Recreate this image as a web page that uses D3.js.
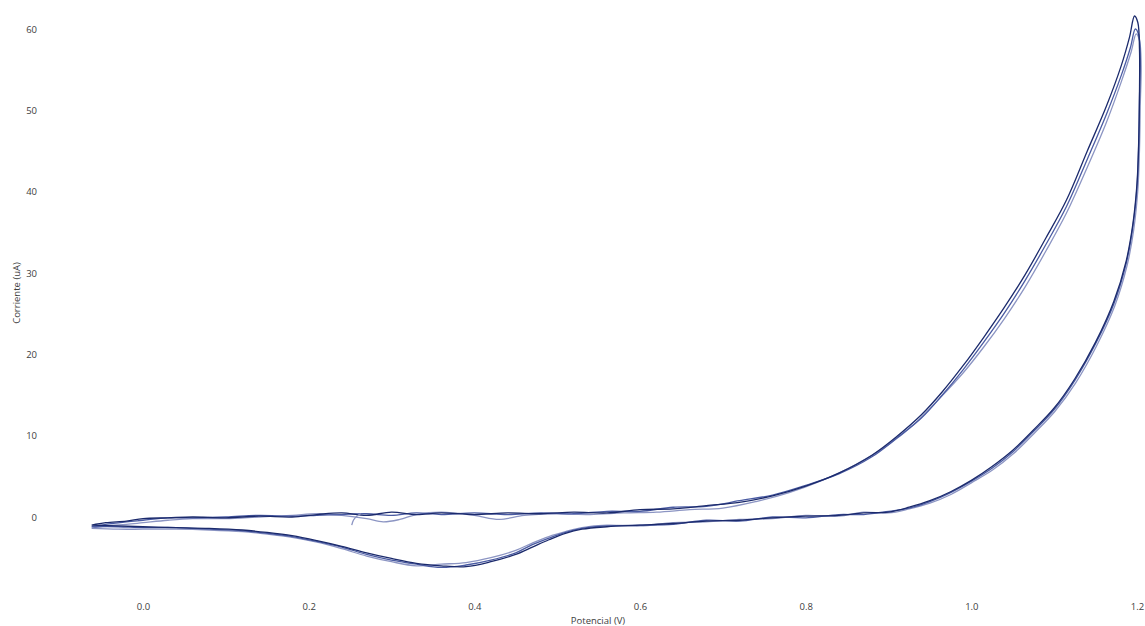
<!DOCTYPE html>
<html>
<head>
<meta charset="utf-8">
<script src="https://cdn.jsdelivr.net/npm/d3@7"></script>
<style>
  html, body { margin: 0; padding: 0; background: #ffffff; }
  svg { display: block; }
  .tick text { font-family: "Open Sans", sans-serif; font-size: 9.5px; fill: #404040; }
  .axis-title { font-family: "Open Sans", sans-serif; font-size: 9.5px; fill: #404040; }
</style>
</head>
<body>
<svg id="chart" width="1145" height="626"></svg>
<script>
// Cyclic voltammogram: three consecutive scans, [potential (V), current (uA)]
const scan1 = [
  [-0.062,-1.0],[-0.045,-0.7],[-0.02,-0.5],[0.0,-0.2],[0.03,-0.1],[0.06,0.0],[0.1,-0.1],[0.14,0.1],
  [0.18,0.0],[0.21,0.3],[0.24,0.5],[0.27,0.2],[0.3,0.6],[0.33,0.3],[0.36,0.5],[0.4,0.3],[0.44,0.5],
  [0.48,0.4],[0.52,0.6],[0.56,0.5],[0.6,0.9],[0.64,1.0],[0.68,1.4],[0.72,1.8],[0.76,2.6],[0.8,3.8],
  [0.84,5.4],[0.88,7.6],[0.91,9.9],[0.94,12.6],[0.965,15.4],[0.99,18.6],[1.015,22.1],[1.04,25.8],
  [1.065,29.8],[1.09,34.3],[1.115,39.0],[1.14,45.0],[1.163,50.5],[1.181,55.5],[1.191,59.0],[1.197,61.6],
  [1.201,60.8],[1.203,57.5],[1.203,52.0],[1.202,46.0],[1.2,41.0],[1.195,36.0],[1.187,31.5],
  [1.172,26.5],[1.15,21.5],[1.125,17.0],[1.1,13.4],[1.075,10.7],[1.05,8.2],[1.025,6.2],[1.0,4.5],
  [0.975,3.1],[0.95,2.0],[0.925,1.2],[0.9,0.6],[0.87,0.5],[0.84,0.2],[0.8,0.1],[0.76,-0.1],
  [0.72,-0.4],[0.68,-0.5],[0.64,-0.8],[0.6,-1.0],[0.56,-1.2],[0.53,-1.5],[0.51,-2.0],[0.49,-2.8],
  [0.47,-3.7],[0.45,-4.6],[0.42,-5.5],[0.39,-6.1],[0.36,-6.0],[0.33,-5.7],[0.3,-5.1],[0.27,-4.4],
  [0.24,-3.6],[0.21,-2.9],[0.18,-2.3],[0.15,-1.9],[0.12,-1.6],[0.08,-1.4],[0.04,-1.3],[0.0,-1.2],
  [-0.03,-1.1],[-0.062,-1.0]
];
const scan2 = [
  [-0.062,-1.2],[-0.045,-0.9],[-0.02,-0.6],[0.0,-0.4],[0.03,-0.1],[0.06,-0.1],[0.1,0.0],[0.14,0.2],
  [0.18,0.1],[0.21,0.2],[0.24,0.3],[0.27,0.4],[0.3,0.2],[0.33,0.5],[0.36,0.3],[0.4,0.5],[0.44,0.3],
  [0.48,0.5],[0.52,0.4],[0.56,0.7],[0.6,0.7],[0.64,1.2],[0.68,1.3],[0.72,2.0],[0.76,2.7],[0.8,3.9],
  [0.84,5.3],[0.88,7.4],[0.91,9.7],[0.94,12.2],[0.965,15.0],[0.99,18.1],[1.015,21.5],[1.04,25.1],
  [1.065,29.1],[1.09,33.5],[1.115,38.2],[1.14,44.0],[1.163,49.5],[1.181,54.3],[1.192,57.7],[1.198,60.0],
  [1.202,59.3],[1.204,56.5],[1.203,51.5],[1.202,45.6],[1.2,40.6],[1.195,35.7],[1.187,31.2],
  [1.172,26.2],[1.15,21.3],[1.125,16.8],[1.1,13.2],[1.075,10.5],[1.05,8.0],[1.025,6.0],[1.0,4.4],
  [0.975,3.0],[0.95,1.9],[0.925,1.1],[0.9,0.7],[0.87,0.3],[0.84,0.3],[0.8,-0.1],[0.76,0.0],
  [0.72,-0.5],[0.68,-0.4],[0.64,-0.9],[0.6,-1.0],[0.56,-1.1],[0.53,-1.4],[0.51,-1.9],[0.49,-2.6],
  [0.47,-3.4],[0.45,-4.4],[0.42,-5.3],[0.39,-5.9],[0.36,-6.2],[0.33,-5.8],[0.3,-5.3],[0.27,-4.6],
  [0.24,-3.7],[0.21,-3.0],[0.18,-2.4],[0.15,-2.0],[0.12,-1.7],[0.08,-1.5],[0.04,-1.3],[0.0,-1.3],
  [-0.03,-1.2],[-0.062,-1.2]
];
const scan3 = [
  [-0.062,-1.4],[-0.045,-1.1],[-0.02,-0.9],[0.0,-0.7],[0.03,-0.4],[0.06,-0.2],[0.1,-0.2],[0.14,0.0],
  [0.18,0.2],[0.21,0.4],[0.24,0.2],[0.27,-0.2],[0.29,-0.6],[0.31,-0.3],[0.33,0.3],[0.36,0.6],[0.4,0.2],
  [0.43,-0.3],[0.46,0.2],[0.5,0.4],[0.54,0.3],[0.58,0.5],[0.62,0.6],[0.66,0.9],[0.7,1.1],[0.74,1.9],
  [0.78,3.0],[0.82,4.5],[0.86,6.4],[0.9,8.9],[0.93,11.3],[0.96,14.4],[0.99,17.7],[1.015,20.9],
  [1.04,24.4],[1.065,28.3],[1.09,32.7],[1.115,37.4],[1.14,43.0],[1.163,48.5],[1.181,53.5],[1.193,57.2],
  [1.199,59.4],
  [1.203,58.6],[1.205,55.5],[1.204,50.8],[1.203,45.2],[1.201,40.2],[1.196,35.3],[1.188,30.9],
  [1.173,25.9],[1.151,21.0],[1.126,16.5],[1.101,13.0],[1.076,10.3],[1.051,7.8],[1.026,5.8],[1.0,4.2],
  [0.976,2.8],[0.95,1.7],[0.925,1.0],[0.9,0.5],[0.87,0.6],[0.84,0.1],[0.8,0.2],[0.76,-0.2],
  [0.72,-0.3],[0.68,-0.6],[0.64,-0.7],[0.6,-1.1],[0.56,-1.0],[0.53,-1.3],[0.51,-1.8],[0.49,-2.4],
  [0.47,-3.2],[0.45,-4.1],[0.42,-5.0],[0.39,-5.6],[0.36,-5.8],[0.33,-6.0],[0.3,-5.5],[0.27,-4.8],
  [0.24,-3.9],[0.21,-3.1],[0.18,-2.5],[0.15,-2.1],[0.12,-1.8],[0.08,-1.6],[0.04,-1.5],[0.0,-1.5],
  [-0.03,-1.5],[-0.062,-1.4]
];
// short lead-in where the first scan begins
const scanStart = [[0.252,-1.0],[0.254,-0.4],[0.258,0.1],[0.263,0.4]];

const scans = [scan3, scan2, scan1];
const scanColors = ["#8c95c3", "#4a5ba3", "#1b2a6c"];

const xTicks = [0, 0.2, 0.4, 0.6, 0.8, 1.0, 1.2];
const yTicks = [0, 10, 20, 30, 40, 50, 60];

const svg = d3.select("#chart");

const x = d3.scaleLinear().domain([0, 1.2]).range([143, 1137]);
const y = d3.scaleLinear().domain([0, 60]).range([517, 29]);

// axes: labels only, no axis lines or tick marks
const xAxis = d3.axisBottom(x).tickValues(xTicks).tickFormat(d3.format(".1f")).tickSize(0).tickPadding(0);
const gx = svg.append("g").attr("transform", "translate(0,603)").call(xAxis);
gx.select(".domain").remove();
gx.selectAll(".tick text").attr("dy", "0.71em");

const yAxis = d3.axisLeft(y).tickValues(yTicks).tickFormat(d3.format("d")).tickSize(0).tickPadding(0);
const gy = svg.append("g").attr("transform", "translate(37,0)").call(yAxis);
gy.select(".domain").remove();

svg.append("text").attr("class", "axis-title")
  .attr("x", 598).attr("y", 624).attr("text-anchor", "middle")
  .text("Potencial (V)");
svg.append("text").attr("class", "axis-title")
  .attr("transform", "translate(20,293) rotate(-90)").attr("text-anchor", "middle")
  .text("Corriente (uA)");

const line = d3.line()
  .x(d => x(d[0]))
  .y(d => y(d[1]))
  .curve(d3.curveCatmullRom.alpha(0.5));

svg.append("g").selectAll("path.scan")
  .data(scans)
  .join("path")
  .attr("class", "scan")
  .attr("d", line)
  .attr("fill", "none")
  .attr("stroke", (d, i) => scanColors[i])
  .attr("stroke-width", 1.3)
  .attr("stroke-linejoin", "round");

svg.append("path")
  .datum(scanStart)
  .attr("d", line)
  .attr("fill", "none")
  .attr("stroke", scanColors[0])
  .attr("stroke-width", 1.3);
</script>
</body>
</html>
